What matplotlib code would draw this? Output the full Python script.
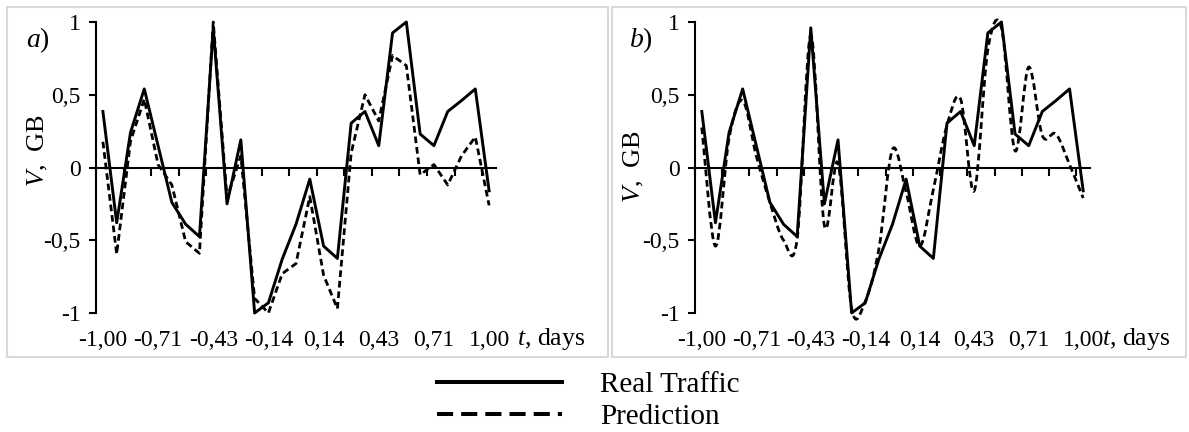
import matplotlib
matplotlib.use("Agg")
import matplotlib.pyplot as plt
import numpy as np
from matplotlib.lines import Line2D
from matplotlib.path import Path
from matplotlib.patches import PathPatch, Rectangle

plt.rcParams['font.family'] = ['Liberation Serif', 'DejaVu Serif']
plt.rcParams['mathtext.fontset'] = 'custom'
plt.rcParams['mathtext.rm'] = 'Liberation Serif'
plt.rcParams['mathtext.it'] = 'Liberation Serif:italic'

# values (29 categories, t from -1 to 1)
real = [0.385, -0.38, 0.24, 0.54, 0.15, -0.24, -0.39, -0.475, 0.96, -0.25,
        0.19, -1.0, -0.93, -0.63, -0.39, -0.08, -0.54, -0.625, 0.305, 0.385,
        0.15, 0.925, 1.0, 0.23, 0.15, 0.385, 0.46, 0.54, -0.16]
pred_a = [0.177, -0.595, 0.18, 0.47, 0.02, -0.12, -0.51, -0.59, 1.0, -0.21,
          0.08, -0.9, -1.0, -0.73, -0.66, -0.2, -0.74, -0.97, 0.1, 0.5,
          0.32, 0.77, 0.7, -0.05, 0.02, -0.12, 0.08, 0.21, -0.26]
pred_b = [0.275, -0.54, 0.2, 0.46, 0.08, -0.24, -0.5, -0.49, 0.91, -0.4,
          0.03, -0.97, -0.92, -0.56, 0.125, -0.17, -0.54, -0.15, 0.29, 0.47,
          -0.16, 0.81, 0.96, 0.115, 0.69, 0.22, 0.23, 0.02, -0.21]
t_labels = ['-1,00', '-0,71', '-0,43', '-0,14', '0,14', '0,43', '0,71', '1,00']
y_ticks = [-1, -0.5, 0, 0.5, 1]
y_labels = ['-1', '-0,5', '0', '0,5', '1']

W, H = 1189, 432
fig = plt.figure(figsize=(W / 100, H / 100), dpi=100)


def fx(px):
    return px / W


def fy(py):
    return 1 - py / H


def smooth_path(x, y):
    # excel-like smoothed line through the points (cubic bezier)
    n = len(x)
    verts = [(x[0], y[0])]
    codes = [Path.MOVETO]
    for i in range(n - 1):
        a = max(i - 1, 0)
        b = min(i + 2, n - 1)
        c1 = (x[i] + (x[i + 1] - x[a]) / 6, y[i] + (y[i + 1] - y[a]) / 6)
        c2 = (x[i + 1] - (x[b] - x[i]) / 6, y[i + 1] - (y[b] - y[i]) / 6)
        verts += [c1, c2, (x[i + 1], y[i + 1])]
        codes += [Path.CURVE4] * 3
    return Path(verts, codes)


def make_panel(left, right, pred, smooth, letter, letter_xy, ylab_xy, tdays_x):
    ax = fig.add_axes([fx(left), fy(313), fx(right - left), (313 - 22) / H])
    x = np.arange(len(real))
    ax.set_xlim(-0.5, len(real) - 0.5)
    ax.set_ylim(-1, 1)
    ax.plot(x, real, color='black', lw=2.1, clip_on=False, zorder=3)
    if smooth:
        ax.add_patch(PathPatch(smooth_path(x, pred), fill=False, color='black',
                               lw=2.0, linestyle=(0, (2.4, 1.4)), clip_on=False, zorder=4))
    else:
        ax.plot(x, pred, color='black', lw=2.0, linestyle=(0, (2.4, 1.4)),
                clip_on=False, zorder=4)

    for s in ['top', 'right']:
        ax.spines[s].set_visible(False)
    ax.spines['left'].set_linewidth(1.5)
    ax.spines['bottom'].set_linewidth(1.5)
    ax.spines['bottom'].set_position(('data', 0))
    ax.set_xticks(np.arange(-0.5, len(real) - 1, 2))
    ax.tick_params(axis='x', direction='out', length=6, width=1.5, labelbottom=False)
    ax.set_yticks(y_ticks)
    ax.set_yticklabels(y_labels)
    ax.tick_params(axis='y', direction='out', length=5, width=1.5, pad=6, labelsize=17)

    sec = ax.secondary_xaxis('bottom')
    sec.set_xticks(np.arange(0, len(real), 4))
    sec.set_xticklabels(t_labels)
    sec.tick_params(length=0, pad=12, labelsize=17)
    sec.spines['bottom'].set_visible(False)

    fig.text(fx(letter_xy[0]), fy(letter_xy[1]), r'$\mathit{' + letter + '}$)',
             fontsize=20, ha='center', va='center')
    fig.text(fx(ylab_xy[0]), fy(ylab_xy[1]), r'$\mathit{V}$,  GB', fontsize=19,
             rotation=90, ha='center', va='center')
    fig.text(fx(tdays_x), fy(339), r'$\mathit{t}$, days', fontsize=18.5,
             ha='left', va='center')
    return ax


# panel frames
fig.patches.append(Rectangle((fx(7), fy(357)), fx(601), 350 / H, transform=fig.transFigure,
                             fill=False, edgecolor='#d9d9d9', lw=1.5))
fig.patches.append(Rectangle((fx(612), fy(357)), fx(574), 350 / H, transform=fig.transFigure,
                             fill=False, edgecolor='#d9d9d9', lw=1.5))

make_panel(96, 496, pred_a, False, 'a', (38, 40), (38, 150), 517)
make_panel(695, 1090, pred_b, True, 'b', (641, 40), (634, 166), 1102)

handles = [Line2D([], [], color='black', lw=2.9),
           Line2D([], [], color='black', lw=2.9, dashes=(4, 2))]
fig.legend(handles, ['Real Traffic', 'Prediction'], loc='center',
           bbox_to_anchor=(fx(588), fy(401)), frameon=False, fontsize=21,
           handlelength=4.3, handletextpad=1.3, labelspacing=0.2)

fig.savefig('out.png', dpi=100)
